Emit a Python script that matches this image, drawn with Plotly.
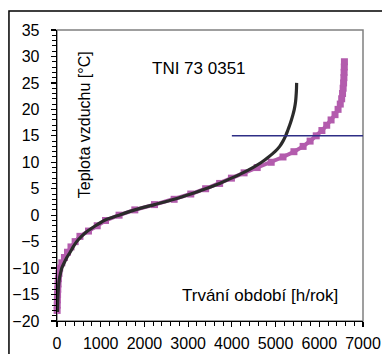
import plotly.graph_objects as go

# TNI 73 0351 duration curve (magenta, square markers)
tni_temp = list(range(-18, 30))
tni_hours = [3, 6, 9, 13, 18, 24, 32, 45, 62, 110, 170, 240, 320, 415, 525, 720,
             920, 1110, 1420, 1780, 2230, 2680, 3060, 3400, 3720, 3990, 4280, 4580,
             4900, 5170, 5420, 5630, 5790, 5930, 6060, 6170, 6270, 6360, 6430, 6480,
             6512, 6532, 6546, 6556, 6563, 6568, 6572, 6575]

# measured duration curve (dark line)
meas_temp = [-18.3, -17, -16, -15, -14, -13, -12, -11, -10, -9, -8, -7, -6, -5, -4,
             -3, -2, -1, 0, 1, 2, 3, 4, 5, 6, 7, 8, 9, 10, 11, 12, 13, 14, 15, 16,
             17, 18, 19, 20, 21, 22, 23, 24, 25]
meas_hours = [10, 14, 18, 23, 30, 40, 55, 80, 110, 165, 225, 300, 370, 450, 560, 700,
              880, 1080, 1420, 1780, 2230, 2680, 3060, 3400, 3720, 3990, 4250, 4480,
              4680, 4840, 4985, 5095, 5170, 5230, 5278, 5322, 5362, 5398, 5428, 5450,
              5464, 5473, 5479, 5482]

# heating limit line at 15 °C
limit_x = [4000, 7000]
limit_y = [15, 15]

title_text = "TNI 73 0351"
x_title = "Trvání období [h/rok]"
y_title = "Teplota vzduchu [°C]"

FONT = "Arial, 'Liberation Sans', sans-serif"

fig = go.Figure()
fig.add_trace(go.Scatter(
    x=tni_hours, y=tni_temp, mode="lines+markers",
    line=dict(color="#B35CAD", width=4),
    marker=dict(symbol="square", size=7, color="#B35CAD"),
    showlegend=False, cliponaxis=False))
fig.add_trace(go.Scatter(
    x=meas_hours, y=meas_temp, mode="lines",
    line=dict(color="#2B2B2B", width=3.2, shape="spline", smoothing=0.5),
    showlegend=False))
fig.add_trace(go.Scatter(
    x=limit_x, y=limit_y, mode="lines",
    line=dict(color="#2E2E86", width=1.5),
    showlegend=False))

fig.update_layout(
    template="none",
    width=382, height=354,
    margin=dict(l=57, r=19, t=30, b=32.5, pad=0),
    paper_bgcolor="white", plot_bgcolor="white",
    font=dict(family=FONT, color="black", size=16),
    xaxis=dict(range=[0, 7000], dtick=1000, tick0=0, showgrid=False, zeroline=False,
               automargin=False,
               showline=True, linecolor="black", linewidth=1.3,
               ticks="outside", ticklen=5, tickcolor="black", tickwidth=1.2,
               tickfont=dict(size=16, color="black"), ticklabelstandoff=2,
               minor=dict(dtick=200, ticks="outside", ticklen=4, tickcolor="black",
                          tickwidth=1, showgrid=False)),
    yaxis=dict(range=[-20, 35], dtick=5, tick0=0, showgrid=False, zeroline=False,
               automargin=False,
               showline=True, linecolor="black", linewidth=1.3,
               ticks="outside", ticklen=5, tickcolor="black", tickwidth=1.2,
               tickfont=dict(size=16, color="black"), ticklabelstandoff=8,
               minor=dict(dtick=1, ticks="outside", ticklen=4, tickcolor="black",
                          tickwidth=1, showgrid=False)),
    shapes=[
        dict(type="rect", xref="paper", yref="paper", x0=0, x1=1, y0=0, y1=1,
             line=dict(color="#808080", width=1.5), layer="below"),
        dict(type="rect", xref="paper", yref="paper", x0=-0.157, x1=1.075,
             y0=-0.2, y1=1.065, line=dict(color="black", width=1.5), layer="above"),
    ],
    annotations=[
        dict(text=title_text, x=3240, y=27.8, xref="x", yref="y", showarrow=False,
             font=dict(size=17, family=FONT, color="black")),
        dict(text=x_title, x=4644, y=-15.1, xref="x", yref="y", showarrow=False,
             font=dict(size=17, family=FONT, color="black")),
        dict(text=y_title, x=618, y=17.0, xref="x", yref="y", showarrow=False,
             textangle=-90, font=dict(size=16, family=FONT, color="black")),
    ],
)

fig.write_html(
    "out.html",
    config={"displayModeBar": False, "staticPlot": True},
    post_script="document.body.style.margin='0';document.body.style.overflow='hidden';",
)
